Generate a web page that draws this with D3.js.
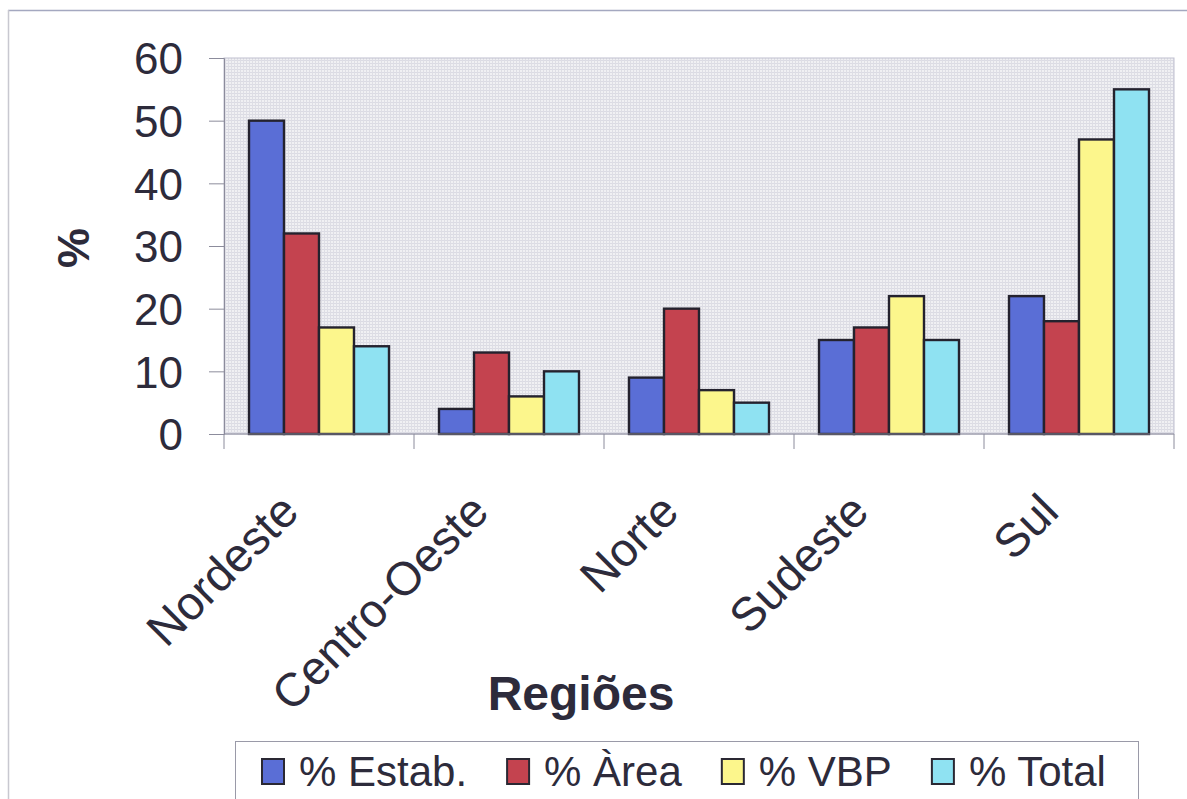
<!DOCTYPE html>
<html>
<head>
<meta charset="utf-8">
<script src="https://cdn.jsdelivr.net/npm/d3@7"></script>
<style>
  html, body { margin: 0; padding: 0; background: #fff; }
  svg { display: block; }
  text { font-family: Arial, "Liberation Sans", sans-serif; fill: #2d2b3b; }
</style>
</head>
<body>
<svg id="chart" width="1187" height="799"></svg>
<script>
// Regional shares (%) by indicator
const regions = ["Nordeste", "Centro-Oeste", "Norte", "Sudeste", "Sul"];
const seriesNames = ["% Estab.", "% Àrea", "% VBP", "% Total"];
const estab = [50, 4, 9, 15, 22];
const area  = [32, 13, 20, 17, 18];
const vbp   = [17, 6, 7, 22, 47];
const total = [14, 10, 5, 15, 55];
const yTicks = [0, 10, 20, 30, 40, 50, 60];
const colors = ["#5a6ed6", "#c4434f", "#fcf68c", "#8fe2f2"];

const seriesValues = [estab, area, vbp, total];
const rows = regions.map((r, i) => ({
  region: r,
  values: seriesNames.map((s, k) => ({ key: s, value: seriesValues[k][i], color: colors[k] }))
}));

const svg = d3.select("#chart");

// outer frame lines
svg.append("line").attr("x1", 8).attr("x2", 1187).attr("y1", 10.5).attr("y2", 10.5)
  .attr("stroke", "#a4a8c0").attr("stroke-width", 1.5);
svg.append("line").attr("x1", 8.5).attr("x2", 8.5).attr("y1", 10).attr("y2", 799)
  .attr("stroke", "#c8c8d0").attr("stroke-width", 1.5);

const plot = { left: 224, right: 1174, top: 58, bottom: 434 };

const x0 = d3.scaleBand().domain(regions).range([plot.left, plot.right]).padding(0);
const x1 = d3.scaleBand().domain(seriesNames).range([25, x0.bandwidth() - 25]).padding(0);
const y = d3.scaleLinear().domain([0, 60]).range([plot.bottom, plot.top]);

// fine screen-like texture for the plot area
const defs = svg.append("defs");
const pat = defs.append("pattern").attr("id", "screen")
  .attr("width", 3).attr("height", 3).attr("patternUnits", "userSpaceOnUse");
pat.append("rect").attr("width", 3).attr("height", 3).attr("fill", "#f0f0f3");
pat.append("rect").attr("width", 3).attr("height", 1).attr("fill", "#dbdbe4");
pat.append("rect").attr("width", 1).attr("height", 3).attr("fill", "#dedee5");

svg.append("rect")
  .attr("x", plot.left).attr("y", plot.top)
  .attr("width", plot.right - plot.left).attr("height", plot.bottom - plot.top)
  .attr("fill", "url(#screen)")
  .attr("stroke", "#c0c0d0").attr("stroke-width", 1);

// bars
const groups = svg.append("g").selectAll("g").data(rows).join("g")
  .attr("transform", d => `translate(${x0(d.region)},0)`);
groups.selectAll("rect").data(d => d.values).join("rect")
  .attr("x", d => x1(d.key))
  .attr("y", d => y(d.value))
  .attr("width", x1.bandwidth())
  .attr("height", d => y(0) - y(d.value))
  .attr("fill", d => d.color)
  .attr("stroke", "#24222e")
  .attr("stroke-width", 2.4);

// y axis
const yAxis = svg.append("g").attr("transform", `translate(${plot.left},0)`)
  .call(d3.axisLeft(y).tickValues(yTicks).tickSize(15).tickPadding(26));
yAxis.select(".domain").attr("stroke", "#8c8c9c");
yAxis.selectAll(".tick line").attr("stroke", "#8c8c9c");
yAxis.selectAll(".tick text")
  .style("font-size", "44px").attr("fill", "#2d2b3b").attr("dy", "0.36em");

// x axis: ticks at category boundaries
const xAxis = svg.append("g").attr("transform", `translate(0,${plot.bottom})`);
xAxis.append("line").attr("x1", plot.left).attr("x2", plot.right)
  .attr("stroke", "#8c8c9c");
const bounds = regions.map(r => x0(r)).concat([plot.right]);
xAxis.selectAll("line.tick").data(bounds).join("line").attr("class", "tick")
  .attr("x1", d => d).attr("x2", d => d).attr("y1", 0).attr("y2", 15)
  .attr("stroke", "#8c8c9c");

// rotated category labels
svg.append("g").selectAll("text").data(regions).join("text")
  .attr("transform", d => `translate(${x0(d) + x0.bandwidth() / 2 - 18},${plot.bottom + 80}) rotate(-45)`)
  .attr("text-anchor", "end")
  .style("font-size", "47px")
  .text(d => d);

// axis titles
svg.append("text")
  .attr("transform", `translate(89,248) rotate(-90)`)
  .attr("text-anchor", "middle")
  .style("font-size", "45px").style("font-weight", "bold")
  .text("%");
svg.append("text")
  .attr("x", 581).attr("y", 710)
  .attr("text-anchor", "middle")
  .style("font-size", "48px").style("font-weight", "bold")
  .text("Regiões");

// legend
const legend = svg.append("g");
legend.append("rect").attr("x", 235.5).attr("y", 741.5)
  .attr("width", 903).attr("height", 80)
  .attr("fill", "#fff").attr("stroke", "#9a9aa8").attr("stroke-width", 1);
let lx = 262;
seriesNames.forEach((s, k) => {
  legend.append("rect").attr("x", lx).attr("y", 759).attr("width", 22).attr("height", 25)
    .attr("fill", colors[k]).attr("stroke", "#2a2833").attr("stroke-width", 2);
  const t = legend.append("text").attr("x", lx + 37).attr("y", 786)
    .style("font-size", "42px").text(s);
  lx = lx + 37 + t.node().getComputedTextLength() + 40;
});
</script>
</body>
</html>
